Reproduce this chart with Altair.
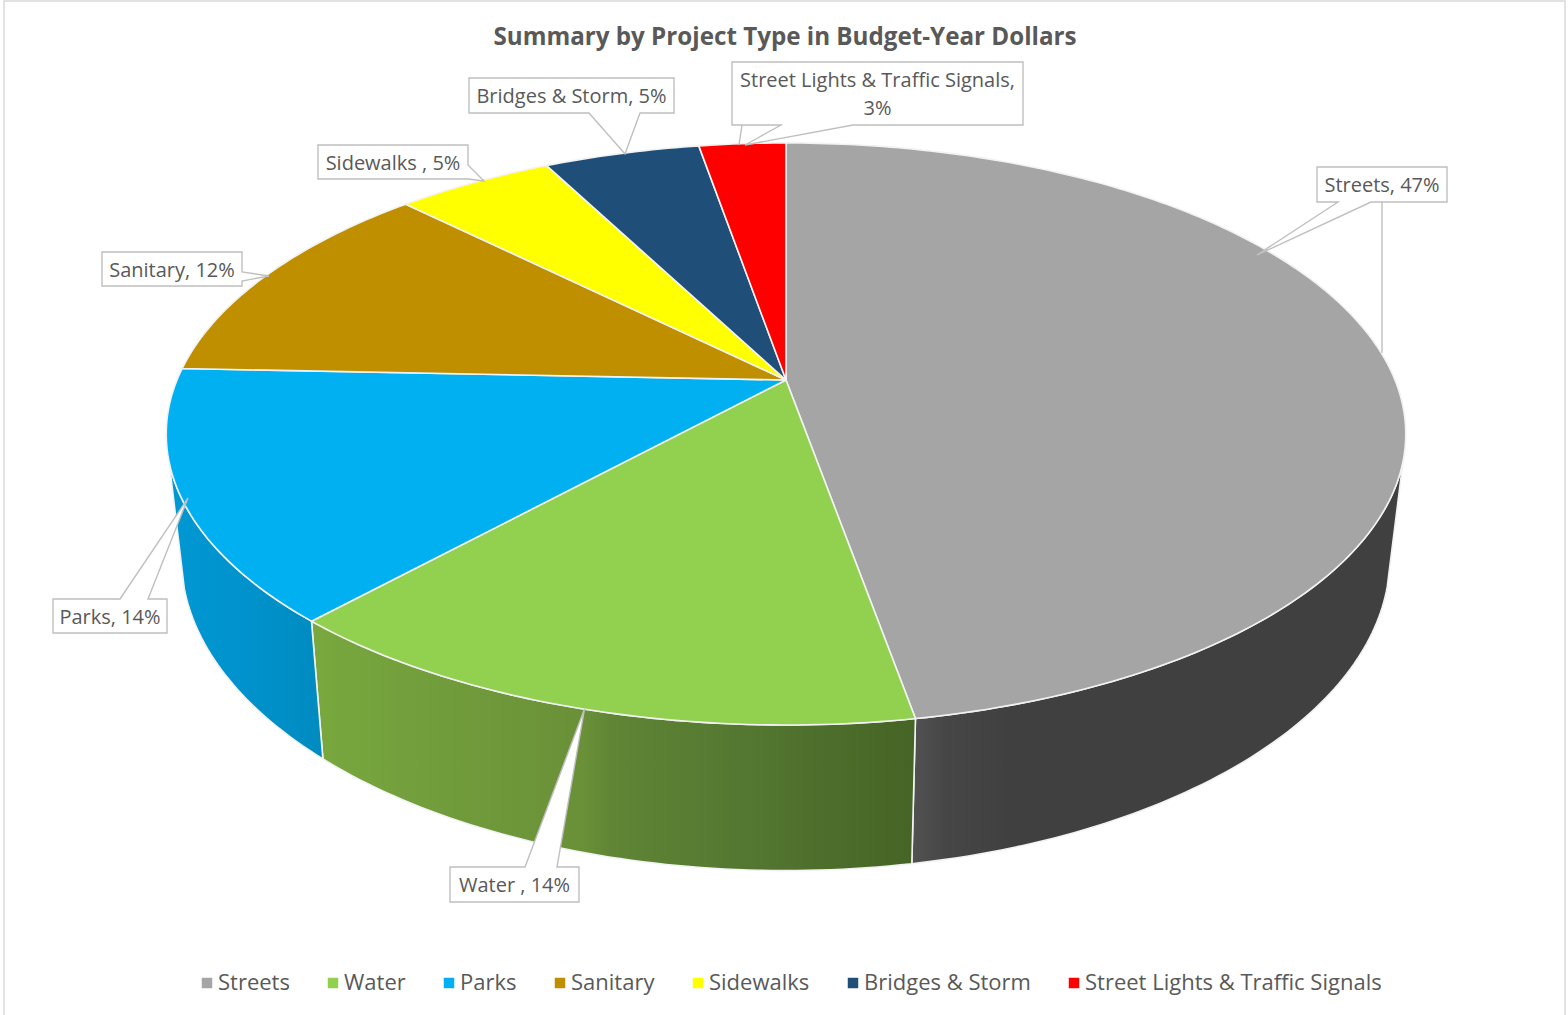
import math
import altair as alt

# Budget shares by project type, clockwise from the top of the pie
categories = ["Streets", "Water", "Parks", "Sanitary", "Sidewalks", "Bridges & Storm", "Street Lights & Traffic Signals"]
shares = [47, 14, 14, 12, 5, 5, 3]
colors = ["#A5A5A5", "#92D050", "#00B0F0", "#BF8F00", "#FFFF00", "#1F4E79", "#FF0000"]
callout_texts = [["Streets, 47%"], ["Water , 14%"], ["Parks, 14%"], ["Sanitary, 12%"],
                 ["Sidewalks , 5%"], ["Bridges & Storm, 5%"], ["Street Lights & Traffic Signals,", "3%"]]

TEXT = "#595959"
LINE = "#BFBFBF"
FONT = "Open Sans"
W, H = 1568, 1015

# Perspective view of the disc: the far rim shrinks, the near rim grows
APEX_X, APEX_Y = 786.0, 380.0
RX, RY, TILT = 609.0, 281.0, 0.1855
SKEW = 0.0075


def rim(turn):
    # The off-axis camera slides the left-hand rim slightly clockwise
    turn = turn + SKEW * max(math.sin(math.pi * turn), 0.0) ** 0.4 * min(1.0, turn / 0.6) ** 5
    a = 2 * math.pi * turn
    sx, sy = math.sin(a), math.cos(a)
    w = 1 + TILT * sy
    return APEX_X + RX * sx / w, APEX_Y - RY * sy / w


def lower(p):
    # The same rim point on the underside of the disc
    return 19.25 + 0.975 * p[0], 91 + 1.0753 * p[1]


def arc(t0, t1):
    n = max(2, int(abs(t1 - t0) * 400))
    return [rim(t0 + (t1 - t0) * i / n) for i in range(n + 1)]


def polygon(points, name=""):
    ring = [list(p) for p in points]
    ring.append(ring[0])
    return {"type": "Feature", "properties": {"name": name},
            "geometry": {"type": "Polygon", "coordinates": [ring]}}


def polyline(points):
    return {"type": "Feature", "properties": {},
            "geometry": {"type": "LineString", "coordinates": [list(p) for p in points]}}


def planar(chart):
    # Feature coordinates are already page pixels
    return chart.project(type="identity", scale=1, translate=[0, 0])


edges = [0]
for s in shares:
    edges.append(edges[-1] + s / 100)

top_faces = [polygon([(APEX_X, APEX_Y)] + arc(edges[i], edges[i + 1]), categories[i])
             for i in range(len(categories))]


def wall(t0, t1):
    top = arc(t0, t1)
    return polygon(top + [lower(p) for p in reversed(top)])


def gradient(stops):
    return alt.LinearGradient(gradient="linear", x1=0, x2=1, y1=0, y2=0,
                              stops=[alt.GradientStop(offset=o, color=c) for o, c in stops])


# Visible side walls, from the right silhouette round to the left one; shading runs left to right
wall_specs = [
    (0.294, edges[1], [(0, "#525252"), (0.07, "#464646"), (0.2, "#404040"), (1, "#404040")]),
    (edges[1], edges[2], [(0, "#78A83E"), (0.45, "#6A9038"), (0.5, "#5F8535"), (0.75, "#527530"), (1, "#466425")]),
    (edges[2], 0.698, [(0, "#0098D4"), (0.5, "#0092CC"), (1, "#008BC0")]),
]
walls = [
    planar(alt.Chart(alt.Data(values=[wall(a, b)])).mark_geoshape(
        fill=gradient(stops), stroke="#F2F2F2", strokeWidth=1.6
    ))
    for a, b, stops in wall_specs
]

pie = planar(alt.Chart(alt.Data(values=top_faces)).mark_geoshape(
    stroke="#F2F2F2", strokeWidth=1.6, strokeJoin="round"
).encode(
    fill=alt.Fill(
        "properties.name:N",
        scale=alt.Scale(domain=categories, range=colors),
        sort=categories,
        legend=alt.Legend(
            title=None, orient="none", legendX=196, legendY=972, columns=7, direction="horizontal",
            symbolType="square", symbolSize=110, symbolStrokeWidth=0, columnPadding=32,
            labelFont=FONT, labelFontSize=22, labelColor=TEXT, labelLimit=500, labelOffset=0,
        ),
    )
))

# Label boxes with their pointers, each outlined as one shape; (left, top, right, bottom) gives the text area
callout_boxes = [(1317, 167, 1447, 202), (450, 867, 579, 902), (53, 599, 167, 633), (102, 252, 242, 286),
                 (318, 145, 468, 179), (469, 78, 674, 113), (732, 62, 1023, 125)]
callout_outlines = [
    [(1317, 167), (1447, 167), (1447, 202), (1371, 202), (1257, 255), (1338, 202), (1317, 202)],
    [(450, 867), (525, 867), (584.5, 709), (557, 867), (579, 867), (579, 902), (450, 902)],
    [(53, 599), (120, 599), (188, 498), (148, 599), (167, 599), (167, 633), (53, 633)],
    [(102, 252), (242, 252), (242, 272), (269, 276), (242, 281), (242, 286), (102, 286)],
    [(318, 145), (468, 145), (468, 165), (484, 181), (468, 179), (318, 179)],
    [(469, 78), (674, 78), (674, 113), (640, 113), (625, 154), (589, 113), (469, 113)],
    [(732, 62), (1023, 62), (1023, 125), (853, 125), (745, 145), (781, 125), (732, 125)],
]
leader_lines = [
    [(1382, 202), (1382, 353)],
    [(742, 125), (739, 145)],
]

callouts = planar(alt.Chart(alt.Data(values=[polygon(o) for o in callout_outlines])).mark_geoshape(
    fill="white", stroke=LINE, strokeWidth=1.4
))
leaders = planar(alt.Chart(alt.Data(values=[polyline(o) for o in leader_lines])).mark_geoshape(
    filled=False, stroke=LINE, strokeWidth=1.4
))

labels = []
for (left, top, right, bottom), lines in zip(callout_boxes, callout_texts):
    cx, cy = (left + right) / 2, (top + bottom) / 2
    for i, line in enumerate(lines):
        y = cy + (i - (len(lines) - 1) / 2) * 27.5 + 1.5
        labels.append(
            alt.Chart(alt.Data(values=[{"t": line}])).mark_text(
                font=FONT, fontSize=20, color=TEXT, align="center", baseline="middle"
            ).encode(text="t:N", x=alt.value(cx), y=alt.value(y))
        )

frame = alt.Chart(alt.Data(values=[{"f": 1}])).mark_rect(
    fillOpacity=0, stroke="#D9D9D9", strokeWidth=1.5
).encode(x=alt.value(4), x2=alt.value(1565), y=alt.value(1), y2=alt.value(1030))

chart = alt.layer(frame, *walls, pie, callouts, leaders, *labels).properties(
    width=W,
    height=H,
    padding=0,
    autosize=alt.AutoSizeParams(type="none"),
    title=alt.TitleParams(
        "Summary by Project Type in Budget-Year Dollars",
        font=FONT, fontSize=24.2, fontWeight="bold", color=TEXT,
        anchor="middle", frame="group", offset=-50, dx=1,
    ),
).configure_view(stroke=None)

chart.save("out.html", embed_options={"renderer": "svg", "actions": False})
